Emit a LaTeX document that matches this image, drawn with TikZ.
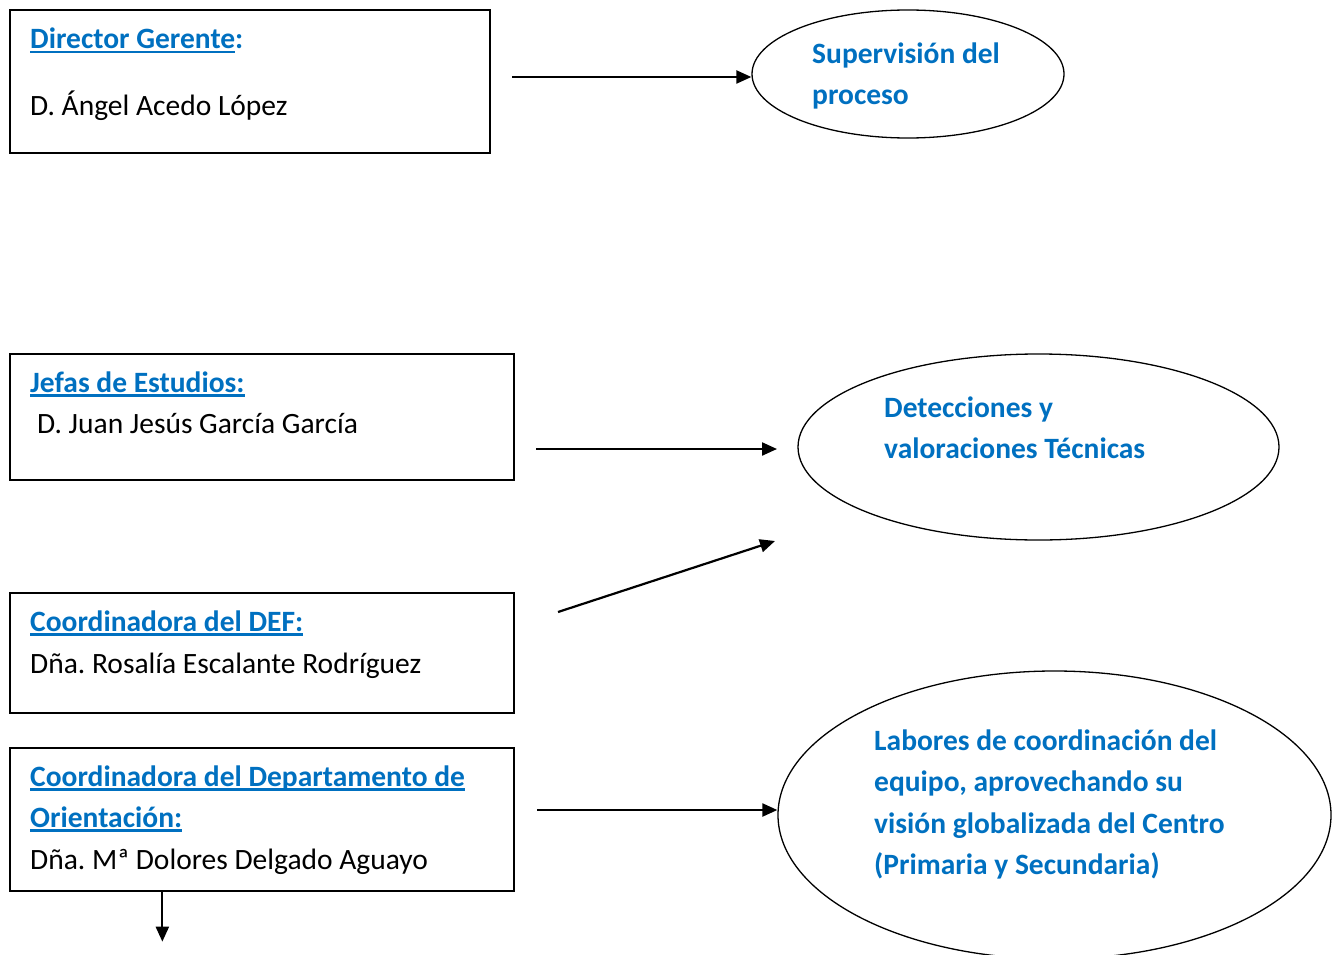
\documentclass[tikz,border=0pt]{standalone}
\usepackage{fontspec}
\setmainfont{Carlito}
\frenchspacing
\usetikzlibrary{arrows.meta,shapes.geometric,calc}
\definecolor{wblue}{HTML}{0070C0}
\newcommand\myul[1]{\setbox0\hbox{#1}\rlap{\rule[-4.5pt]{\wd0}{2.6pt}}\box0}
\tikzset{
  box/.style={draw, line width=1.3pt, inner sep=0pt},
  oval/.style={draw, ellipse, line width=1.3pt, inner sep=0pt},
  txt/.style={anchor=base west, inner sep=0pt, font=\fontsize{29.5}{41}\selectfont\frenchspacing},
  btxt/.style={txt, text=wblue, font=\fontsize{29.5}{41}\selectfont\bfseries\frenchspacing},
  conn/.style={line width=2.2pt, -{Triangle[length=15pt,width=13pt]}}
}
\begin{document}
\begin{tikzpicture}[x=1pt,y=-1pt]
\useasboundingbox (0,0) rectangle (1335,955);
\clip (0,0) rectangle (1335,955);
% boxes
\node[box, minimum width=480pt, minimum height=143pt] (b1) at (250,81.5) {};
\node[box, minimum width=504pt, minimum height=126pt] (b2) at (262,417) {};
\node[box, minimum width=504pt, minimum height=120pt] (b3) at (262,653) {};
\node[box, minimum width=504pt, minimum height=143pt] (b4) at (262,819.5) {};
% ellipses
\node[oval, minimum width=312pt, minimum height=128pt] (e1) at (908,74) {};
\node[oval, minimum width=481pt, minimum height=186pt] (e2) at (1038.5,447) {};
\node[oval, minimum width=553pt, minimum height=288pt] (e3) at (1054.5,815) {};
% box texts
\node[btxt] (t1a) at (30,49) {\myul{Director Gerente}:};
\node[txt] (t1b) at (30,116) {D. Ángel Acedo López};
\node[btxt] (t2a) at (30,392) {\myul{Jefas de Estudios:}};
\node[txt] (t2b) at (37,433) {D. Juan Jesús García García};
\node[btxt] (t3a) at (30,631) {\myul{Coordinadora del DEF:}};
\node[txt] (t3b) at (30,673) {Dña. Rosalía Escalante Rodríguez};
\node[btxt] (t4a) at (30,786) {\myul{Coordinadora del Departamento de}};
\node[btxt] (t4b) at (30,827) {\myul{Orientación:}};
\node[txt] (t4c) at (30,869) {Dña. Mª Dolores Delgado Aguayo};
% ellipse texts
\node[btxt] (s1a) at (812,64) {Supervisión del};
\node[btxt] (s1b) at (812,105) {proceso};
\node[btxt] (s2a) at (884,417) {Detecciones y};
\node[btxt] (s2b) at (884,458) {valoraciones Técnicas};
\node[btxt] (s3a) at (874,750) {Labores de coordinación del};
\node[btxt] (s3b) at (874,791) {equipo, aprovechando su};
\node[btxt] (s3c) at (874,833) {visión globalizada del Centro};
\node[btxt] (s3d) at (874,874) {(Primaria y Secundaria)};
% connector ends
\coordinate (a1s) at (512,77);
\coordinate (a2s) at (536,449);
\coordinate (a2e) at (777,449);
\coordinate (a3s) at (558,612);
\coordinate (a3e) at (775,541);
\coordinate (a4s) at (537,810);
\coordinate (a5s) at ($(b4.south west)+(153,0)$);
\coordinate (a5e) at ($(a5s)+(0,50)$);
% connectors
\draw[conn] (a1s) -- (e1.west |- a1s);
\draw[conn] (a2s) -- (a2e);
\draw[conn] (a3s) -- (a3e);
\draw[conn] (a4s) -- (e3.west |- a4s);
\draw[conn] (a5s) -- (a5e);
\end{tikzpicture}
\end{document}
